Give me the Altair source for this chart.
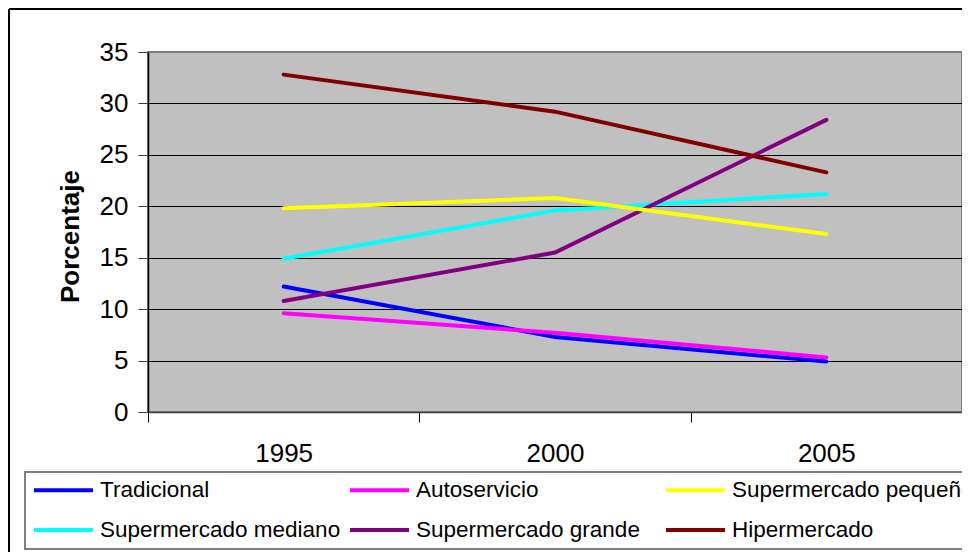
import altair as alt
import pandas as pd

years = ["1995", "2000", "2005"]
# legend fills column by column (2 rows), so this order gives the reference's rows
series = ["Tradicional", "Supermercado mediano", "Autoservicio",
          "Supermercado grande", "Supermercado pequeño", "Hipermercado"]
colors = ["#0000FF", "#00FFFF", "#FF00FF", "#800080", "#FFFF00", "#800000"]

tradicional = [12.2, 7.3, 4.9]
super_mediano = [14.9, 19.6, 21.2]
autoservicio = [9.6, 7.7, 5.3]
super_grande = [10.8, 15.5, 28.4]
super_pequeno = [19.8, 20.8, 17.3]
hipermercado = [32.8, 29.2, 23.3]

values = [tradicional, super_mediano, autoservicio, super_grande, super_pequeno, hipermercado]

rows = []
for s, vals in zip(series, values):
    for y, v in zip(years, vals):
        rows.append({"Año": y, "Serie": s, "Porcentaje": v})
df = pd.DataFrame(rows)

FONT = "Liberation Sans"

lines = alt.Chart(df).mark_line(strokeWidth=4, strokeCap="round").encode(
    x=alt.X("Año:N", sort=years,
            scale=alt.Scale(paddingInner=0, paddingOuter=0),
            axis=alt.Axis(title=None, labelAngle=0, tickBand="extent",
                          labelFontSize=26, labelFont=FONT, labelColor="black",
                          labelPadding=18, tickSize=10, tickColor="black",
                          domainColor="#404040", domainWidth=1.5, grid=False)),
    y=alt.Y("Porcentaje:Q",
            scale=alt.Scale(domain=[0, 35], nice=False),
            axis=alt.Axis(values=[0, 5, 10, 15, 20, 25, 30, 35],
                          title="Porcentaje", titleFont=FONT, titleFontSize=26,
                          titleFontWeight="bold", titleColor="black",
                          titleX=-65, titleY=184,
                          labelFontSize=26, labelFont=FONT, labelColor="black",
                          labelPadding=10, tickSize=10, tickColor="#404040",
                          domainColor="black", domainWidth=1.5,
                          grid=True,
                          gridColor=alt.condition("datum.value == 35",
                                                  alt.value("#808080"),
                                                  alt.value("black")),
                          gridWidth=1)),
    color=alt.Color("Serie:N",
                    scale=alt.Scale(domain=series, range=colors),
                    legend=alt.Legend(title=None, orient="none",
                                      legendX=-123, legendY=420,
                                      columns=3, gridAlign="all",
                                      symbolType="stroke", symbolSize=3481,
                                      symbolStrokeWidth=4, clipHeight=22,
                                      labelFont=FONT, labelFontSize=22.5,
                                      labelColor="black", labelLimit=400,
                                      labelOffset=5, columnPadding=6,
                                      rowPadding=17, padding=7,
                                      strokeColor="#808080")),
)

border_left = alt.Chart(pd.DataFrame({"k": [0]})).mark_rule(
    color="black", strokeWidth=2).encode(
    x=alt.value(-139), y=alt.value(-43), y2=alt.value(600))
border_top = alt.Chart(pd.DataFrame({"k": [0]})).mark_rule(
    color="black", strokeWidth=2).encode(
    x=alt.value(-139), x2=alt.value(900), y=alt.value(-43))

chart = alt.layer(lines, border_left, border_top).properties(
    width=814, height=360,
    padding={"left": 140, "top": 44, "right": 0, "bottom": 140},
    autosize=alt.AutoSizeParams(type="none"),
    background="white",
).configure_view(
    fill="#C0C0C0", stroke="#808080", strokeWidth=2
).configure_legend(
    strokeWidth=2
)

chart.save("out.html", embed_options={"renderer": "svg", "actions": False})
